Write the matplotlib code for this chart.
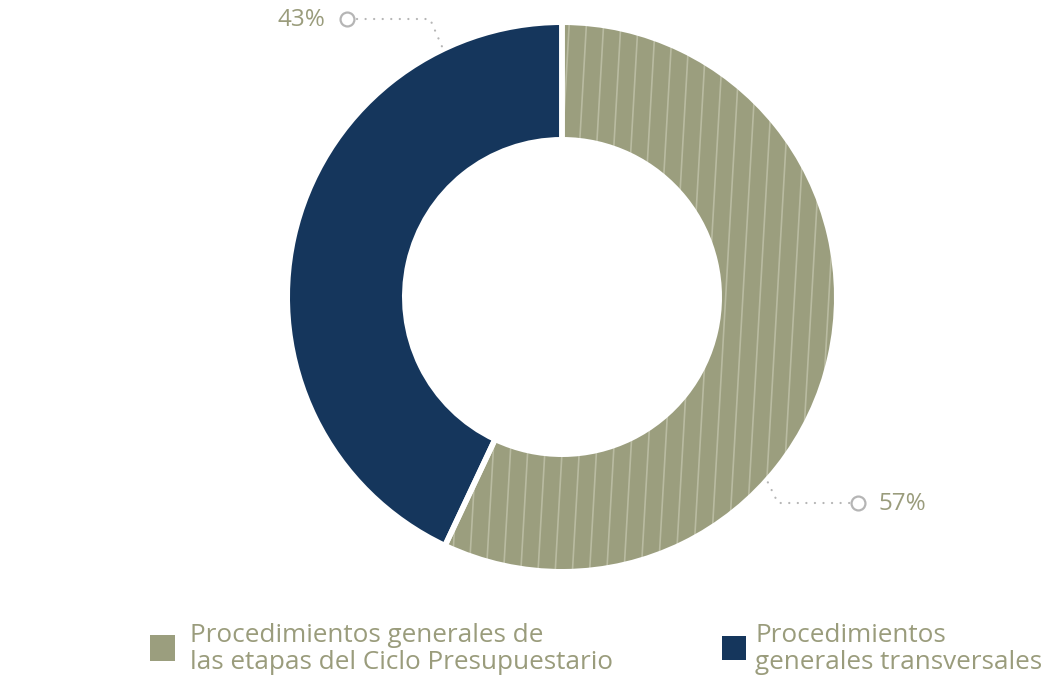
import numpy as np
import matplotlib
matplotlib.use("Agg")
import matplotlib.pyplot as plt
from matplotlib.collections import LineCollection
from matplotlib.patches import Wedge, Rectangle

# ---- data ----
categories = ["Procedimientos generales de\nlas etapas del Ciclo Presupuestario",
              "Procedimientos\ngenerales transversales"]
values = [57, 43]
pct_labels = ["57%", "43%"]
colors = ["#9b9e7e", "#15365c"]

OLIVE_TXT = "#9a9c7c"
HATCH_COL = "#b9bba1"
GRAY = "#b5b5b5"
FONT = "Open Sans"

W, H = 1050, 679
fig = plt.figure(figsize=(10.5, 6.79), dpi=100)
ax = fig.add_axes([0, 0, 1, 1])

cx, cy = 562, 382
R_out, R_in = 272, 160
gap_pt = 4.0
gap_px = gap_pt * 100 / 72

wedges, _ = ax.pie(values, colors=colors, startangle=90, counterclock=False,
                   center=(cx, cy), radius=R_out + gap_px / 2,
                   wedgeprops=dict(width=R_out - R_in + gap_px, linewidth=0),
                   frame=True)
for w in wedges:
    w.set_zorder(1)

# hatch lines (slightly slanted vertical stripes) on first wedge
spacing = 17.2
slope = 0.057
x0 = 569 - slope * (651 - cy)
ks = np.arange(-25, 26)
segs = []
for k in ks:
    xb = x0 + k * spacing
    y1, y2 = cy - 300, cy + 300
    segs.append([(xb + slope * (y1 - cy), y1), (xb + slope * (y2 - cy), y2)])
lc = LineCollection(segs, colors=HATCH_COL, linewidths=1.2, zorder=2)
ax.add_collection(lc)
lc.set_clip_path(wedges[0])

# white separators on top
for w in wedges:
    ax.add_patch(Wedge(w.center, w.r, w.theta1, w.theta2, width=w.width,
                       fill=False, edgecolor="white", linewidth=gap_pt, zorder=3))

# ---- leader labels ----
def leader(angle_deg, r, elbow, circ, text_xy, label, ha):
    a = np.deg2rad(angle_deg)
    sx, sy = cx + r * np.cos(a), cy + r * np.sin(a)
    ax.plot([sx, elbow[0], circ[0]], [sy, elbow[1], circ[1]], color=GRAY,
            linewidth=1.6, linestyle=(0, (0.05, 3.8)), dash_capstyle="round",
            solid_capstyle="round", zorder=4)
    ax.plot([circ[0]], [circ[1]], marker="o", markersize=10, markerfacecolor="white",
            markeredgecolor=GRAY, markeredgewidth=1.6, zorder=5, linestyle="none")
    ax.text(text_xy[0], text_xy[1], label, ha=ha, va="center", fontsize=17.5,
            color=OLIVE_TXT, family=FONT, fontweight="medium", zorder=6)

leader(-42, 277, (778, 176), (858, 176), (879, 175), pct_labels[0], "left")
leader(115.6, 278, (430, 660), (347, 660), (325, 659), pct_labels[1], "right")

# ---- legend ----
leg_sq = [(150, 18, 25, 26), (722, 19, 24, 24)]
leg_tx = [190, 755]
for (x, y, w, h), col, tx, cat in zip(leg_sq, colors, leg_tx, categories):
    ax.add_patch(Rectangle((x, y), w, h, facecolor=col, edgecolor="none", zorder=5))
    ax.text(tx, 30, cat, ha="left", va="center", fontsize=18.8, color=OLIVE_TXT,
            family=FONT, linespacing=1.1, zorder=6)

ax.set_xlim(0, W)
ax.set_ylim(0, H)
ax.set_aspect("auto")
ax.axis("off")
fig.savefig("out.png", dpi=100)
